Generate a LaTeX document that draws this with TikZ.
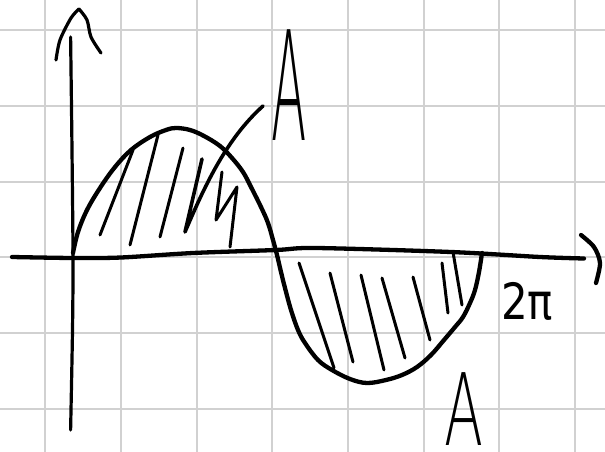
\documentclass[tikz,border=0pt]{standalone}
\usepackage{fontspec}
\IfFontExistsTF{DejaVu Sans ExtraLight}
  {\newfontfamily\handfont{DejaVu Sans ExtraLight}}
  {\IfFontExistsTF{DejaVuSans-ExtraLight.ttf}
    {\newfontfamily\handfont{DejaVuSans-ExtraLight.ttf}}
    {\newfontfamily\handfont{Liberation Sans}}}
\newfontfamily\dejafont{DejaVu Sans}
\tikzset{
  gridline/.style={draw=black!18, line width=2pt},
  ink/.style={draw=black, line width=4.3pt, line cap=round, line join=round},
  thinink/.style={draw=black, line width=3.2pt, line cap=round, line join=round},
  hatch/.style={draw=black, line width=3pt, line cap=round, line join=round},
  lab/.style={inner sep=0pt, outer sep=0pt, text=black},
}
\begin{document}
\begin{tikzpicture}[x=1pt,y=-1pt]
\useasboundingbox (0,0) rectangle (605,452);
\fill[white] (0,0) rectangle (605,452);
% grid
\foreach \gx in {45.3,121,196.6,272.3,347.9,423.6,499.2,574.9}
  \draw[gridline] (\gx,0) -- (\gx,452);
\foreach \gy in {30.5,106.1,181.7,257.3,332.9,408.5}
  \draw[gridline] (0,\gy) -- (605,\gy);
% vertical axis
\draw[thinink] plot[smooth] coordinates {(70.6,430) (72.5,330) (73,257) (72,150) (70.6,37)};
% arrow tip drawn by hand
\draw[thinink] plot[smooth] coordinates {(56,60) (60,40) (71,18) (79,9)};
\draw[thinink] plot[smooth] coordinates {(79,9) (87,20) (91,37) (101,53)};
% horizontal axis
\draw[ink] plot[smooth] coordinates {(12,257) (73,258) (121,257.5) (193,253) (276,250) (316,248) (451,252) (540,257) (584,258.5)};
% right bracket
\draw[ink] plot[smooth] coordinates {(581,235) (594,247) (600,263) (596,283)};
% sine curve
\draw[ink] plot[smooth, tension=0.6] coordinates {
 (73,253) (78,232) (87,210) (100,188) (115,167) (131,150) (150,137) (166,130)
 (176,128) (190,130) (204,136) (220,146) (232,158) (243,172) (251,187)
 (261,207) (268,223) (273,240) (277,255) (281,272) (285,288) (291,310)
 (298,330) (305,343) (318,360) (332,370) (350,379) (367,383) (386,380)
 (402,375) (417,367) (431,355) (444,340) (455,327) (463,317) (470,303)
 (475,290) (479,272) (482,253)};
% upper hatches
\draw[hatch] (100,235) -- (133,150);
\draw[hatch] (130,245) -- (158,135);
\draw[hatch] (160,237) -- (183,148);
\draw[hatch] (222,172) -- (216,220) -- (237,187) -- (230,247);
% hatch joined with the leader to the label A
\coordinate (leadend) at (263,106);
\draw[hatch, line width=3.6pt] (202,159) -- (185,232)
  .. controls (203,190) and (225,140) .. (leadend);
% lower hatches
\draw[hatch] (299,263) -- (334,368);
\draw[hatch] (330,273) -- (353,362);
\draw[hatch] (361,275) -- (384,370);
\draw[hatch] (382,278) -- (405,358);
\draw[hatch] (413,277) -- (430,340);
\draw[hatch] (442,263) -- (448,313);
\draw[hatch] (453,252) -- (462,305);
% labels
\node[lab, xscale=0.34] (Aup) at (289,85) {\handfont\fontsize{152}{152}\selectfont A};
\node[lab, xscale=0.57] (Alow) at (464,409) {\handfont\fontsize{100}{100}\selectfont A};
\node[lab, xscale=0.84] (twopi) at (527,301) {\dejafont\fontsize{50}{50}\selectfont 2π};
\end{tikzpicture}
\end{document}
